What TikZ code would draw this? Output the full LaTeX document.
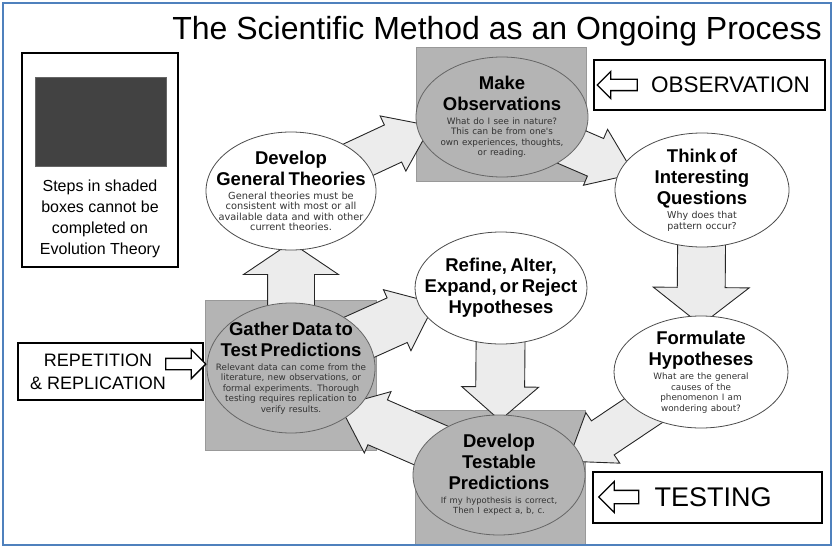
\documentclass[tikz,border=0pt]{standalone}
\usepackage{fontspec}
\setmainfont{Liberation Sans}
\newfontfamily\notefont{DejaVu Sans}
\usepackage{tikz}
\usetikzlibrary{shapes.geometric,shapes.arrows,calc,backgrounds}
\pgfdeclarelayer{bottom}
\pgfsetlayers{bottom,background,main}
\definecolor{frameblue}{RGB}{79,129,189}
\definecolor{stepgray}{RGB}{180,180,180}
\definecolor{swatchgray}{RGB}{66,66,66}
\newcommand{\headtext}[1]{{\fontsize{18.5}{21}\selectfont\bfseries #1\par}\vspace{3pt}}
\newcommand{\notetext}[2][8.8]{{\notefont\fontsize{#1}{10.5}\selectfont\color{black!80}#2\par}}
\newcommand{\cyclearrow}[3][]{%
  \path let \p1=(#2), \p2=(#3), \n1={atan2(\y2-\y1,\x2-\x1)}, \n2={veclen(\x2-\x1,\y2-\y1)} in
    node[bigarrow, #1, rotate=\n1, minimum height=\n2] at ($(\p1)!0.5!(\p2)$) {};}

\begin{document}
\begin{tikzpicture}[x=1pt, y=-1pt,
    stepoval/.style={ellipse, draw=black!70, fill=white, line width=0.8pt, inner xsep=-40pt, inner ysep=-30pt, text width=170pt, align=center},
    shadedoval/.style={stepoval, fill=stepgray, draw=black!60},
    shadebox/.style={rectangle, draw=black!40, fill=stepgray, line width=0.6pt, inner sep=0pt},
    labelbox/.style={rectangle, draw=black, line width=1.8pt, inner sep=0pt},
    bigarrow/.style={single arrow, draw=black!85, fill=gray!15, line width=0.9pt, inner xsep=0pt, inner ysep=20pt, minimum width=0pt, single arrow head extend=10pt, single arrow tip angle=72},
    hollow/.style={single arrow, draw=black, fill=white, line width=1.3pt, inner xsep=0pt, inner ysep=5pt, minimum width=0pt, minimum height=40pt, single arrow head extend=8pt, single arrow tip angle=90},
    caption/.style={font=\fontsize{22.5}{24}\selectfont, inner sep=0pt}
]
\useasboundingbox (0,0) rectangle (834,548);

\node[anchor=base, inner sep=0pt, font=\fontsize{32}{36}\selectfont] (title) at (497,40) {The Scientific Method as an Ongoing Process};

\node[labelbox, line width=2.2pt, minimum width=156pt, minimum height=214pt] (legend) at (100,160) {};
\node[rectangle, fill=swatchgray, draw=black!60, inner sep=0pt, minimum width=131pt, minimum height=89pt] (swatch) at (100.5,121.5) {};
\node[align=center, inner sep=0pt, font=\fontsize{16}{21}\selectfont] (legtext) at (100,219) {Steps in shaded\\boxes cannot be\\completed on\\Evolution Theory};

\node[labelbox, minimum width=231pt, minimum height=50pt] (obslabel) at (709.5,85) {};
\node[hollow, rotate=180] (obsarrow) at (620,85) {};
\node[caption] (obstext) at (730.5,85) {OBSERVATION};

\node[labelbox, minimum width=229pt, minimum height=51pt] (testlabel) at (707.5,497.5) {};
\node[hollow, rotate=180, inner ysep=6pt, single arrow head extend=9pt] (testarrow) at (622,497) {};
\node[caption, font=\fontsize{27}{30}\selectfont] (testtext) at (713,497.5) {TESTING};

\node[labelbox, minimum width=185pt, minimum height=57pt] (replabel) at (110.5,371.5) {};
\node[hollow, single arrow head extend=9pt] (reparrow) at (183,364) {};
\node[align=center, inner sep=0pt, font=\fontsize{18}{23}\selectfont] (reptext) at (98,371.5) {REPETITION\\\& REPLICATION};

\begin{pgfonlayer}{bottom}
\node[shadebox, minimum width=170pt, minimum height=134pt] (obsbox) at (501,114) {};
\node[shadebox, minimum width=171pt, minimum height=150pt] (gathbox) at (290.5,375) {};
\node[shadebox, minimum width=170pt, minimum height=135pt] (testbox) at (500,477.5) {};
\end{pgfonlayer}

\node[shadedoval, minimum width=172pt, minimum height=120pt] (obsE) at (502,117) {\headtext{Make\\Observations}\notetext{What do I see in nature?\\This can be from one's\\own experiences, thoughts,\\or reading.}};
\node[stepoval, minimum width=170pt, minimum height=118pt] (thE) at (291,191) {\headtext{Develop\\General Theories}\notetext[9.8]{General theories must be\\consistent with most or all\\available data and with other\\current theories.}};
\node[stepoval, minimum width=174pt, minimum height=114pt] (thinkE) at (702,190) {\headtext{Think of\\Interesting\\Questions}\notetext[9.5]{Why does that\\pattern occur?}};
\node[stepoval, minimum width=172pt, minimum height=112pt] (refE) at (501,288) {\headtext{Refine, Alter,\\Expand, or Reject\\Hypotheses}};
\node[stepoval, minimum width=174pt, minimum height=112pt] (formE) at (701,372) {\headtext{Formulate\\Hypotheses}\notetext{What are the general\\causes of the\\phenomenon I am\\wondering about?}};
\node[shadedoval, minimum width=168pt, minimum height=130pt] (gathE) at (291,368) {\headtext{Gather Data to\\Test Predictions}\notetext{Relevant data can come from the\\literature, new observations, or\\formal experiments. Thorough\\testing requires replication to\\verify results.}};
\node[shadedoval, minimum width=172pt, minimum height=120pt] (testE) at (499,475) {\headtext{Develop\\Testable\\Predictions}\notetext[8.4]{If my hypothesis is correct,\\Then I expect a, b, c.}};

\begin{scope}[on background layer]
\cyclearrow{thE}{obsE.190}
\cyclearrow{obsE}{thinkE.165}
\cyclearrow[inner ysep=23.5pt, single arrow head extend=24pt, single arrow tip angle=104]{thinkE}{formE.north}
\cyclearrow{formE}{testE.15}
\cyclearrow[inner ysep=24pt, single arrow head extend=14pt, single arrow tip angle=98]{refE}{testbox.north}
\cyclearrow[inner ysep=23pt, single arrow head extend=24pt, single arrow tip angle=112]{gathE}{thE.south}
\cyclearrow[inner ysep=24pt, single arrow head extend=9pt, single arrow tip angle=78]{gathE}{refE.195}
\cyclearrow[inner ysep=24pt, single arrow head extend=9pt, single arrow tip angle=78]{testE}{gathE.-35}
\end{scope}

\draw[frameblue, line width=2pt] (3,3) rectangle (831,545);
\end{tikzpicture}
\end{document}
